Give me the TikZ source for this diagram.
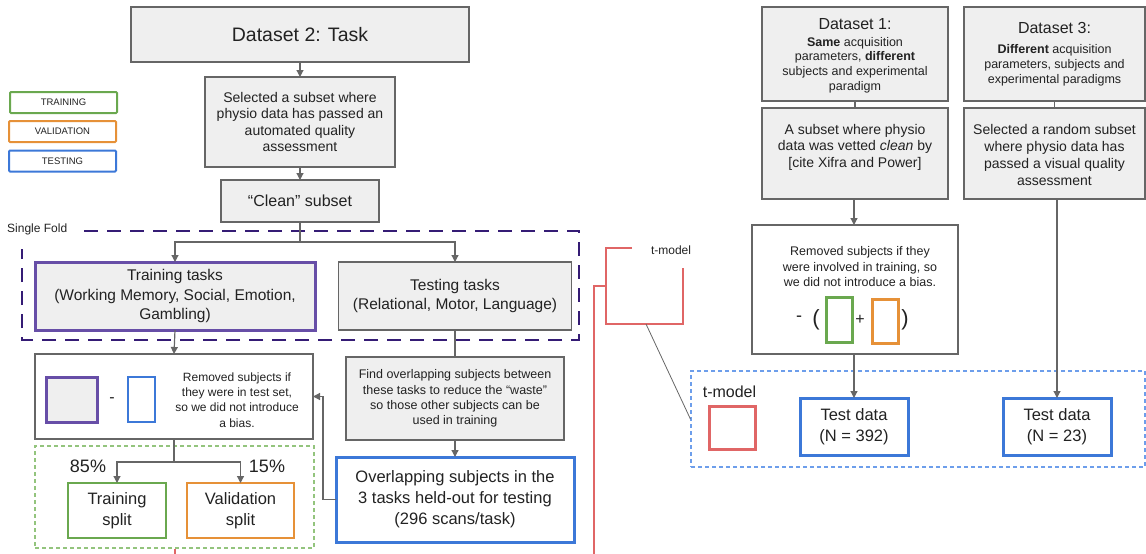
\documentclass[tikz,border=0pt]{standalone}
\usepackage{fontspec}
\setmainfont{Liberation Sans}
\usetikzlibrary{arrows.meta}
\definecolor{gline}{HTML}{666666}
\definecolor{gfill}{HTML}{EFEFEF}
\definecolor{cpurple}{HTML}{674EA7}
\definecolor{cgreen}{HTML}{6AA84F}
\definecolor{corange}{HTML}{E69138}
\definecolor{cblue}{HTML}{3C78D8}
\definecolor{cred}{HTML}{E06666}
\definecolor{cnavy}{HTML}{351C75}
\definecolor{clblue}{HTML}{6D9EEB}
\definecolor{clgreen}{HTML}{93C47D}
\definecolor{ctext}{HTML}{222222}
\newcommand\fsz[2]{\fontsize{#1pt}{#2pt}\selectfont}
\begin{document}
\begin{tikzpicture}[x=1pt,y=-1pt,
  box/.style={draw=gline, line width=1.2pt, align=center, inner sep=0pt, outer sep=0pt, text=ctext},
  gbox/.style={box, fill=gfill},
  wbox/.style={box, fill=white},
  txt/.style={align=center, inner sep=0pt, text=ctext},
  legbox/.style={draw=#1, line width=2pt, rounded corners=1pt, fill=white, minimum width=107pt, minimum height=21pt, inner sep=0pt, font=\fsz{9.5}{11}, text=ctext},
  arr/.style={draw=gline, line width=1.2pt, -{Triangle[length=7pt,width=7pt]}},
  ln/.style={draw=gline, line width=1.2pt},
  redln/.style={draw=cred, line width=2pt},
]
\useasboundingbox (0,0) rectangle (1146,554);

% ---------- dashed group frames ----------
\draw[cnavy, line width=2pt, dash pattern=on 14pt off 9pt] (84,231) -- (579,231) -- (579,340) -- (22,340) -- (22,249);
\node[draw=clgreen, line width=1.2pt, dash pattern=on 4pt off 3pt, minimum width=279pt, minimum height=102pt, inner sep=0pt] (gfr) at (174.5,497) {};
\node[draw=clblue, line width=1.2pt, dash pattern=on 4pt off 3pt, minimum width=454pt, minimum height=96pt, inner sep=0pt] (tbox) at (918,419) {};

% ---------- legend ----------
\node[legbox=cgreen] (lgtr) at (63.5,102.5) {TRAINING};
\node[legbox=corange] (lgva) at (62.5,131.5) {VALIDATION};
\node[legbox=cblue] (lgte) at (62.5,161) {TESTING};

\node[txt, anchor=west, font=\fsz{12}{14}] (sf) at (7,229) {Single Fold};

% ---------- left column ----------
\node[gbox, minimum width=338pt, minimum height=55pt, font=\fsz{19.5}{23}] (d2) at (300,34.5) {Dataset 2: Task};
\node[gbox, minimum width=190pt, minimum height=90pt, font=\fsz{14}{16.5}] (sel) at (300,122) {Selected a subset where\\physio data has passed an\\automated quality\\assessment};
\node[gbox, minimum width=158pt, minimum height=42pt, font=\fsz{16}{19}] (clean) at (300,201) {“Clean” subset};

\node[gbox, draw=cpurple, line width=3pt, minimum width=280pt, minimum height=68pt, font=\fsz{15.5}{19.5}] (train) at (175,296) {Training tasks\\(Working Memory, Social, Emotion,\\Gambling)};
\node[gbox, minimum width=233pt, minimum height=68pt, font=\fsz{15.5}{19.5}] (test) at (455,296) {Testing tasks\\(Relational, Motor, Language)};

\node[wbox, minimum width=278pt, minimum height=85pt] (reml) at (174,396.5) {};
\node[gbox, draw=cpurple, line width=3pt, minimum width=51pt, minimum height=45pt] (psq) at (71.5,399.5) {};
\node[txt, font=\fsz{16}{19}] (minl) at (112,400) {-};
\node[wbox, draw=cblue, line width=2.5pt, minimum width=27pt, minimum height=45pt] (bsq) at (141.5,399.5) {};
\node[txt, font=\fsz{12}{15.3}] (remltxt) at (237,400) {Removed subjects if\\they were in test set,\\so we did not introduce\\a bias.};

\node[txt, font=\fsz{18}{21}] (p85) at (88,466) {85\%};
\node[txt, font=\fsz{18}{21}] (p15) at (267,466) {15\%};
\node[wbox, draw=cgreen, line width=2pt, minimum width=98pt, minimum height=55pt, font=\fsz{16.5}{21}] (trs) at (117,510.5) {Training\\split};
\node[wbox, draw=corange, line width=2pt, minimum width=107pt, minimum height=55pt, font=\fsz{16.5}{21}] (vas) at (240.5,510.5) {Validation\\split};

\node[gbox, minimum width=218pt, minimum height=83pt, font=\fsz{12.5}{15.3}] (find) at (455,398.5) {Find overlapping subjects between\\these tasks to reduce the “waste”\\so those other subjects can be\\used in training};
\node[wbox, draw=cblue, line width=3pt, minimum width=238pt, minimum height=85pt, font=\fsz{16.5}{21}] (ov) at (455,499.5) {Overlapping subjects in the\\3 tasks held-out for testing\\(296 scans/task)};

% ---------- right side ----------
\node[gbox, minimum width=186pt, minimum height=94pt] (ds1) at (855,54) {};
\node[txt, font=\fsz{16}{19}] (ds1t) at (855,24) {Dataset 1:};
\node[txt, font=\fsz{12.5}{14.7}] (ds1b) at (855,65) {\textbf{Same} acquisition\\parameters, \textbf{different}\\subjects and experimental\\paradigm};
\node[gbox, minimum width=186pt, minimum height=91pt] (sub1) at (855,153.5) {};
\node[txt, font=\fsz{14}{16.5}] (sub1t) at (855,147) {A subset where physio\\data was vetted \textit{clean} by\\{[}cite Xifra and Power{]}};

\node[gbox, minimum width=181pt, minimum height=94pt] (ds3) at (1054.5,54) {};
\node[txt, font=\fsz{16}{19}] (ds3t) at (1054.5,28) {Dataset 3:};
\node[txt, font=\fsz{12.5}{15}] (ds3b) at (1054.5,65) {\textbf{Different} acquisition\\parameters, subjects and\\experimental paradigms};
\node[gbox, minimum width=181pt, minimum height=91pt] (sub3) at (1054.5,153.5) {};
\node[txt, font=\fsz{14}{16.7}] (sub3t) at (1054.5,155) {Selected a random subset\\where physio data has\\passed a visual quality\\assessment};

\node[wbox, minimum width=206pt, minimum height=129pt] (remr) at (855,289.5) {};
\node[txt, font=\fsz{12.5}{15.5}] (remrt) at (860,267) {Removed subjects if they\\were involved in training, so\\we did not introduce a bias.};
\node[txt, font=\fsz{18}{21}] (minr) at (799,319) {-};
\node[txt, font=\fsz{22}{24}] (lpar) at (816,320) {(};
\node[wbox, draw=cgreen, line width=3pt, minimum width=26pt, minimum height=45pt] (gsq) at (839,319.5) {};
\node[txt, font=\fsz{16}{19}] (plus) at (860,320) {+};
\node[wbox, draw=corange, line width=3pt, minimum width=26pt, minimum height=44pt] (osq) at (885,321) {};
\node[txt, font=\fsz{22}{24}] (rpar) at (905,320) {)};

\node[txt, font=\fsz{16}{19}] (tm2) at (729.5,392) {t-model};
\node[draw=cred, line width=3pt, fill=white, minimum width=46pt, minimum height=43pt, inner sep=0pt] (rsq) at (732,427.5) {};
\node[wbox, draw=cblue, line width=3pt, minimum width=108pt, minimum height=57pt, font=\fsz{16.5}{20.7}] (td1) at (854,426.5) {Test data\\(N = 392)};
\node[wbox, draw=cblue, line width=3pt, minimum width=108pt, minimum height=57pt, font=\fsz{16.5}{20.7}] (td2) at (1057,426.5) {Test data\\(N = 23)};

% red t-model bracket
\node[txt, font=\fsz{12}{14}] (tm1) at (671,250) {t-model};
\coordinate (rbr) at (646,324);
\draw[redln] (632,248) -- (606,248) -- (606,324) -- (683,324) -- (683,268);
\coordinate (rbot) at (594,554);
\draw[redln] (rbot) -- (594,286) -- (606,286);
\draw[redln] (gfr.south) -- ++(0,6);
\draw[gline, line width=0.8pt] (rbr) -- (tbox.west);

% ---------- connectors ----------
\draw[arr] (d2.south) -- (sel.north);
\draw[arr] (sel.south) -- (clean.north);
\draw[arr] (clean.south) -- ++(0,20) -| (train.north);
\draw[arr] (clean.south) -- ++(0,20) -| (test.north);
\draw[arr] (train.south) -- (reml.north);
\draw[arr] (reml.south) -- ++(0,23) -| (trs.north);
\draw[arr] (reml.south) -- ++(0,23) -| (vas.north);
\draw[ln] (test.south) -- (find.north);
\draw[arr] (find.south) -- (ov.north);
\draw[arr] (ov.west) -- ++(-13,0) |- (reml.east);

\draw[ln] (ds1.south) -- (sub1.north);
\draw[arr] (sub1.south -| td1.north) -- (remr.north -| td1.north);
\draw[arr] (remr.south -| td1.north) -- (td1.north);
\draw[ln] (ds3.south) -- (sub3.north);
\draw[arr] (sub3.south -| td2.north) -- (td2.north);
\end{tikzpicture}
\end{document}
